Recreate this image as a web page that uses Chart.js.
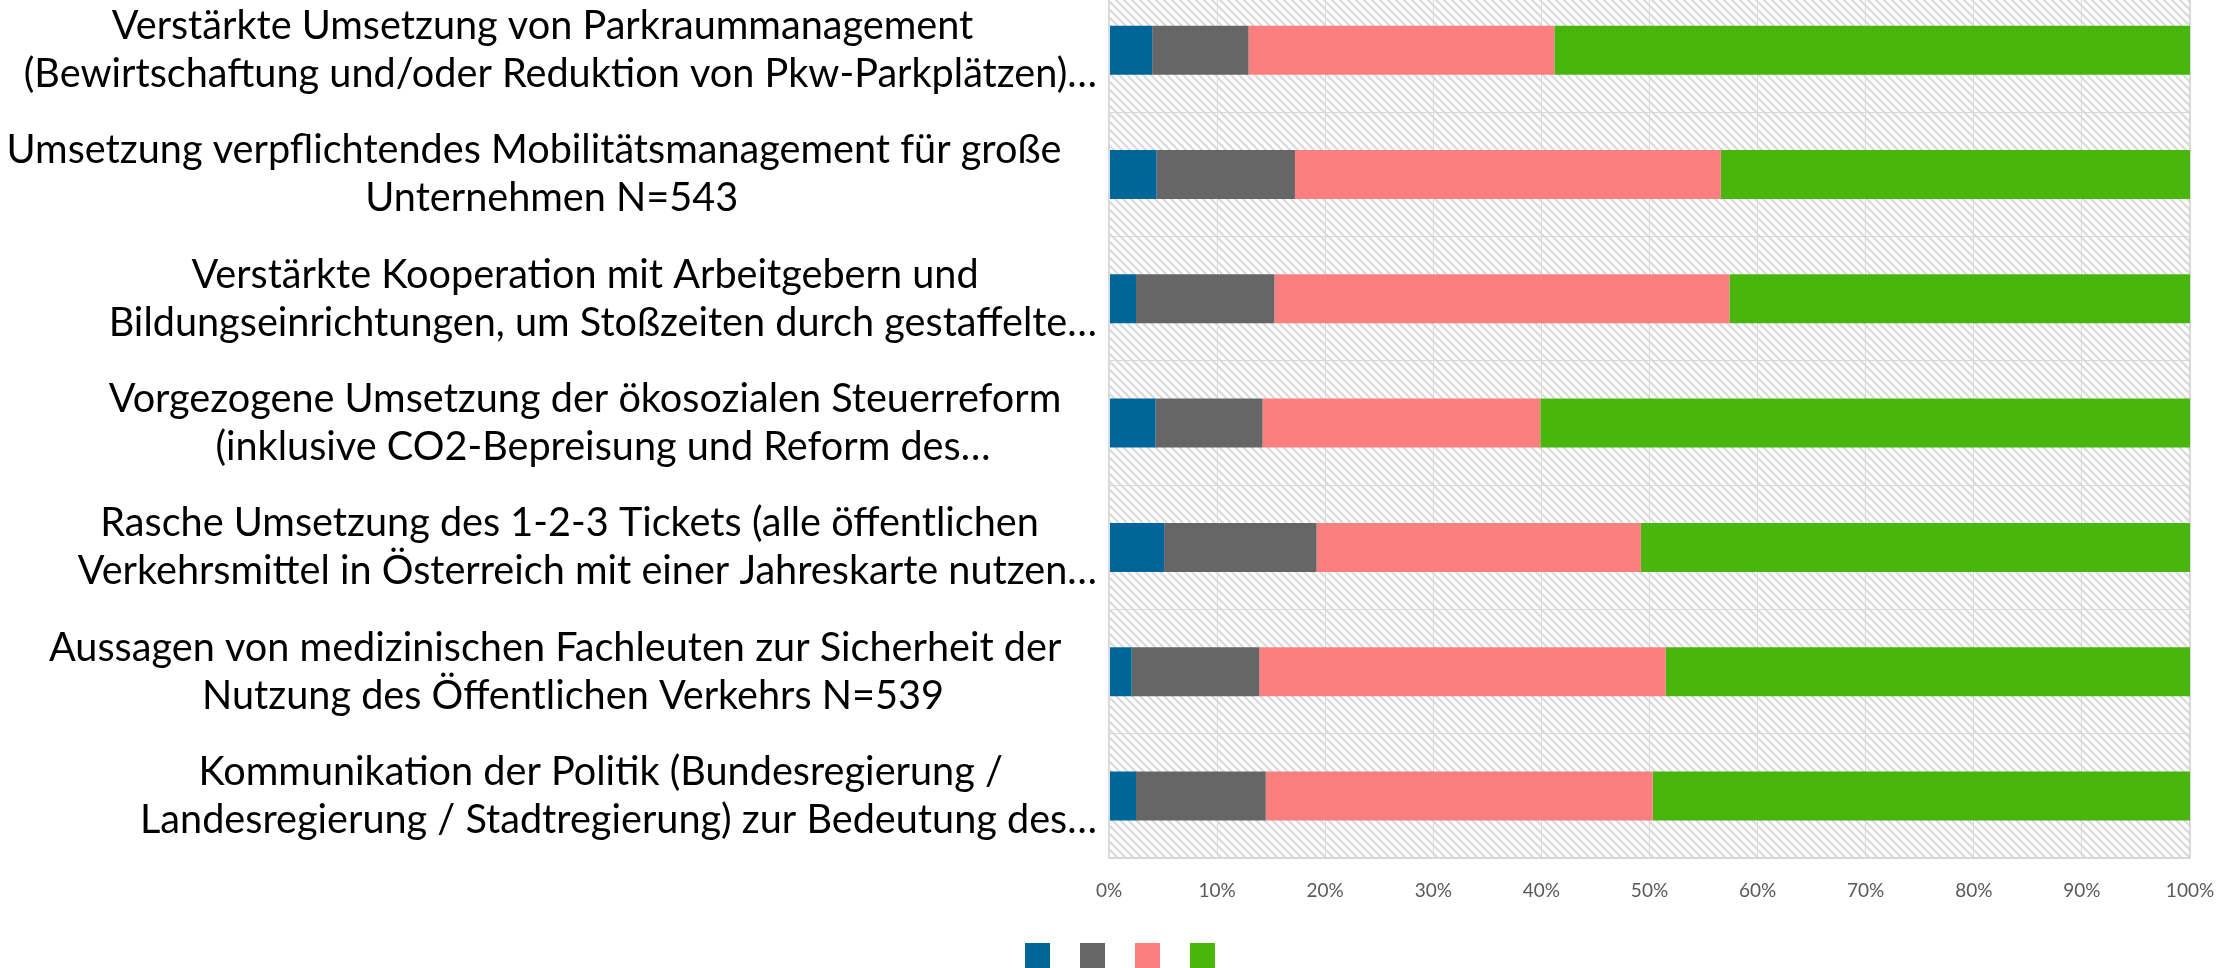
<!DOCTYPE html>
<html><head><meta charset="utf-8">
<script src="https://cdn.jsdelivr.net/npm/chart.js@4.4.0/dist/chart.umd.min.js"></script>
<style>
html,body{margin:0;padding:0;background:#fff;overflow:hidden;width:2221px;height:968px}
#wrap{position:absolute;left:0;top:-12px;width:2221px;height:1000px}
</style></head><body><div id="wrap"><canvas id="c" width="2221" height="1000"></canvas></div>
<script>
const categories = [
  ["Verstärkte Umsetzung von Parkraummanagement", "(Bewirtschaftung und/oder Reduktion von Pkw-Parkplätzen)…"],
  ["Umsetzung verpflichtendes Mobilitätsmanagement für große", "Unternehmen N=543"],
  ["Verstärkte Kooperation mit Arbeitgebern und", "Bildungseinrichtungen, um Stoßzeiten durch gestaffelte…"],
  ["Vorgezogene Umsetzung der ökosozialen Steuerreform", "(inklusive CO2-Bepreisung und Reform des…"],
  ["Rasche Umsetzung des 1-2-3 Tickets (alle öffentlichen", "Verkehrsmittel in Österreich mit einer Jahreskarte nutzen…"],
  ["Aussagen von medizinischen Fachleuten zur Sicherheit der", "Nutzung des Öffentlichen Verkehrs N=539"],
  ["Kommunikation der Politik (Bundesregierung /", "Landesregierung / Stadtregierung) zur Bedeutung des…"]
];
const seriesNames = ["", "", "", ""];
const series1 = [4.0, 4.4, 2.5, 4.3, 5.1, 2.1, 2.5];
const series2 = [8.9, 12.8, 12.8, 9.9, 14.1, 11.8, 12.0];
const series3 = [28.3, 39.4, 42.1, 25.7, 30.0, 37.6, 35.8];
const series4 = [58.8, 43.4, 42.6, 60.1, 50.8, 48.5, 49.7];
const xTickValues = [0, 10, 20, 30, 40, 50, 60, 70, 80, 90, 100];
const colors = ["#006699", "#666666", "#fa8080", "#48b60c"];

const labelFamily = "Lato";
// fit label font so the widest wrapped line matches the reference width
const mctx = document.createElement('canvas').getContext('2d');
mctx.font = "100px " + labelFamily;
const refW = mctx.measureText("Umsetzung verpflichtendes Mobilitätsmanagement für große").width;
const labelSize = 100 * 1055 / refW;
const lineGap = 48;

function makePattern(ctx) {
  const t = document.createElement('canvas');
  t.width = 8; t.height = 8;
  const c = t.getContext('2d');
  c.fillStyle = '#ffffff'; c.fillRect(0, 0, 8, 8);
  c.strokeStyle = '#d9d9d9'; c.lineWidth = 2.2;
  for (let k = -1; k <= 1; k++) {
    c.beginPath(); c.moveTo(-1, -1 + 8 * k); c.lineTo(9, 9 + 8 * k); c.stroke();
  }
  return ctx.createPattern(t, 'repeat');
}

const hatchPlugin = {
  id: 'hatch',
  beforeDraw(chart) {
    const {ctx, chartArea: a} = chart;
    ctx.save();
    ctx.fillStyle = makePattern(ctx);
    ctx.fillRect(a.left, a.top, a.right - a.left, a.bottom - a.top);
    ctx.restore();
  }
};

const catLabelPlugin = {
  id: 'catLabels',
  afterDraw(chart) {
    const ctx = chart.ctx, ys = chart.scales.y;
    ctx.save();
    ctx.font = labelSize.toFixed(2) + "px " + labelFamily;
    ctx.fillStyle = '#000';
    ctx.textBaseline = 'middle';
    ctx.textAlign = 'left';
    const right = chart.chartArea.left - 12;
    const trail = 0.9 * labelSize;
    categories.forEach((lines, i) => {
      const cy = ys.getPixelForTick(i);
      const widths = lines.map((l, k) => ctx.measureText(l).width + (k < lines.length - 1 ? trail : 0));
      const bw = Math.max(...widths);
      const cx = right - bw / 2;
      lines.forEach((l, k) => {
        const yy = cy + (k - (lines.length - 1) / 2) * lineGap;
        ctx.fillText(l, cx - widths[k] / 2, yy);
      });
    });
    ctx.restore();
  }
};

const allSeries = [series1, series2, series3, series4];
new Chart(document.getElementById('c'), {
  type: 'bar',
  data: {
    labels: categories,
    datasets: allSeries.map((d, i) => ({
      label: seriesNames[i],
      data: d,
      backgroundColor: colors[i],
      borderWidth: 0,
      barPercentage: 0.394,
      categoryPercentage: 1
    }))
  },
  options: {
    indexAxis: 'y',
    responsive: false,
    animation: false,
    devicePixelRatio: 1,
    layout: {padding: {left: 60, right: 31, top: 0, bottom: 10}},
    plugins: {
      tooltip: {enabled: false},
      legend: {
        display: true,
        position: 'bottom',
        labels: {boxWidth: 25, boxHeight: 25, padding: 20, font: {size: 20, family: labelFamily}, color: '#595959'}
      }
    },
    scales: {
      x: {
        stacked: true,
        min: 0, max: 100,
        afterBuildTicks: (s) => { s.ticks = xTickValues.map(v => ({value: v})); },
        afterFit: (s) => { s.paddingLeft = 0; s.paddingRight = 0; },
        ticks: {
          callback: (v) => v + '%',
          font: {size: 19, family: labelFamily},
          color: '#595959',
          padding: 21,
          maxRotation: 0
        },
        grid: {
          color: '#d9d9d9',
          lineWidth: (c) => (c.index === 0 || c.index === xTickValues.length - 1) ? 2 : 1,
          drawTicks: false
        },
        border: {display: true, color: '#d9d9d9', width: 2}
      },
      y: {
        stacked: true,
        afterFit: (s) => { s.width = 1049; },
        ticks: {display: false},
        grid: {color: '#d9d9d9', lineWidth: 1, drawTicks: false, offset: true},
        border: {display: true, color: '#d9d9d9', width: 2}
      }
    }
  },
  plugins: [hatchPlugin, catLabelPlugin]
});
</script></body></html>
